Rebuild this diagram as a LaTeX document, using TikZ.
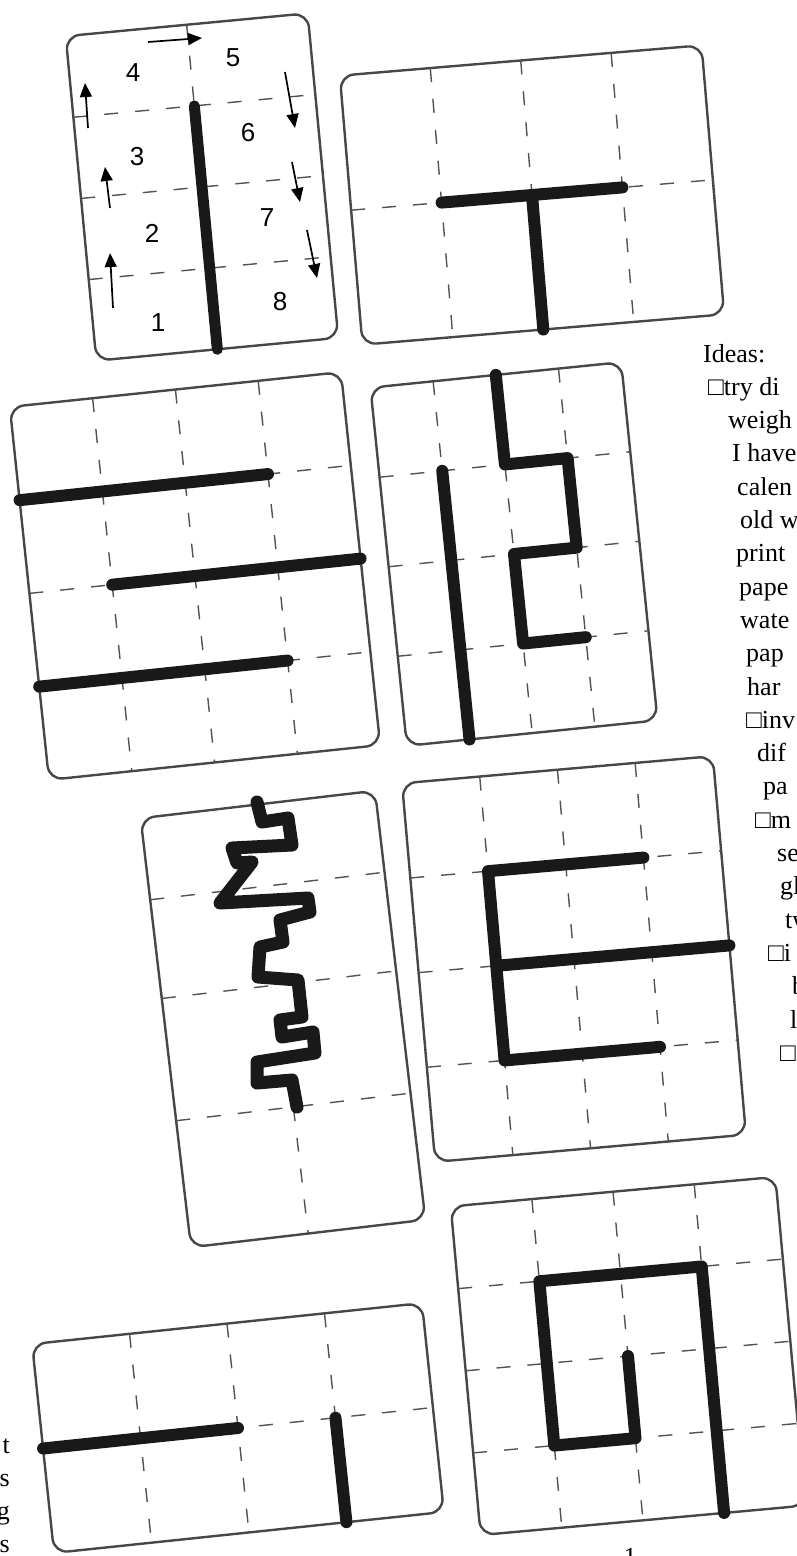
\documentclass[tikz,border=0pt]{standalone}
\usepackage{fontspec}
\setmainfont{Liberation Serif}
\newfontfamily\digitfont{Liberation Sans}
\usetikzlibrary{arrows.meta}

\begin{document}
\begin{tikzpicture}[x=1pt, y=-1pt,
  card/.style={draw=black!72, line width=2.4pt, rounded corners=14pt},
  gridline/.style={draw=black!68, line width=1.4pt, dash pattern=on 14pt off 17pt},
  pen/.style={draw=black!90, line width=12pt, line cap=round, line join=round},
  dirarrow/.style={draw=black, line width=1.7pt, -{Triangle[length=14pt, width=12pt]}},
  digit/.style={font=\digitfont\fontsize{26}{26}\selectfont, inner sep=0pt},
  idea/.style={anchor=base west, inner sep=0pt, font=\fontsize{26}{26}\selectfont},
  tail/.style={anchor=base east, inner sep=0pt, font=\fontsize{26}{26}\selectfont}]

  \useasboundingbox (0,0) rectangle (796,1556);

  % Card 1: stroke order
  \begin{scope}[shift={(202,187)}, rotate=5.4, x=121.5pt, y=-81.5pt]
    \draw[card] (-1,-2) rectangle (1,2);
    \draw[gridline] (0,-2) -- (0,2);
    \foreach \r in {-1,0,1} \draw[gridline] (-1,\r) -- (1,\r);
    \draw[pen, line width=11pt] (0,-1) -- (0,2);
  \end{scope}
  \node[digit] (n4) at (133,73) {4};
  \node[digit] (n5) at (233,58) {5};
  \node[digit] (n3) at (137,157) {3};
  \node[digit] (n6) at (248,133) {6};
  \node[digit] (n2) at (152,233) {2};
  \node[digit] (n7) at (267,218) {7};
  \node[digit] (n1) at (158,323) {1};
  \node[digit] (n8) at (280,302) {8};
  \draw[dirarrow] (113,308) -- (110,253);
  \draw[dirarrow] (110,208) -- (105,167);
  \draw[dirarrow] (88,128) -- (85,83);
  \draw[dirarrow] (148,42) -- (202,38);
  \draw[dirarrow] (285,72) -- (295,128);
  \draw[dirarrow] (292,162) -- (300,202);
  \draw[dirarrow] (307,230) -- (317,278);

  % Card 2: T
  \begin{scope}[shift={(532,195)}, rotate=4.8, x=90.75pt, y=-135pt]
    \draw[card] (-2,-1) rectangle (2,1);
    \foreach \c in {-1,0,1} \draw[gridline] (\c,-1) -- (\c,1);
    \draw[gridline] (-2,0) -- (2,0);
    \draw[pen] (-1,0) -- (1,0) (0,0) -- (0,1);
  \end{scope}

  % Card 3: three bars
  \begin{scope}[shift={(195,576)}, rotate=6, x=83.25pt, y=-93.75pt]
    \draw[card] (-2,-2) rectangle (2,2);
    \foreach \c in {-1,0,1} {
      \draw[gridline] (\c,-2) -- (\c,2);
      \draw[gridline] (-2,\c) -- (2,\c);
    }
    \draw[pen] (-2,-1) -- (1,-1) (-1,0) -- (2,0) (-2,1) -- (1,1);
  \end{scope}

  % Card 4: line and steps
  \begin{scope}[shift={(514,554)}, rotate=5.8, x=63pt, y=-90pt]
    \draw[card] (-2,-2) rectangle (2,2);
    \foreach \c in {-1,0,1} {
      \draw[gridline] (\c,-2) -- (\c,2);
      \draw[gridline] (-2,\c) -- (2,\c);
    }
    \draw[pen] (-1,-1) -- (-1,2);
    \draw[pen] (0,-2) -- (0,-1) -- (1,-1) -- (1,0) -- (0,0) -- (0,1) -- (1,1);
  \end{scope}

  % Card 5: zigzag
  \begin{scope}[shift={(283,1019)}, rotate=6.7, x=59pt, y=-108pt]
    \draw[card] (-2,-2) rectangle (2,2);
    \foreach \r in {-1.24,-0.32,0.82} \draw[gridline] (-2,\r) -- (2,\r);
    \draw[gridline] (0,0.82) -- (0,2);
  \end{scope}
  \draw[pen, line width=13pt] (257,802) -- (262,822) -- (288,818) -- (292,845)
    -- (232,848) -- (237,863) -- (252,862) -- (220,903) -- (308,898)
    -- (310,912) -- (280,920) -- (283,942) -- (260,947) -- (258,977)
    -- (298,980) -- (302,1017) -- (280,1020) -- (282,1037) -- (313,1032)
    -- (315,1053) -- (257,1062) -- (257,1083) -- (292,1080) -- (297,1107);

  % Card 6: E
  \begin{scope}[shift={(574,959)}, rotate=5, x=78pt, y=-95pt]
    \draw[card] (-2,-2) rectangle (2,2);
    \foreach \c in {-1,0,1} {
      \draw[gridline] (\c,-2) -- (\c,2);
      \draw[gridline] (-2,\c) -- (2,\c);
    }
    \draw[pen] (1,-1) -- (-1,-1) -- (-1,1) -- (1,1) (-1,0) -- (2,0);
  \end{scope}

  % Card 7: wide card
  \begin{scope}[shift={(238,1428)}, rotate=6, x=98pt, y=-105pt]
    \draw[card] (-2,-1) rectangle (2,1);
    \foreach \c in {-1,0,1} \draw[gridline] (\c,-1) -- (\c,1);
    \draw[gridline] (-2,0) -- (2,0);
    \draw[pen] (-2,0) -- (0,0) (1,0) -- (1,1);
  \end{scope}

  % Card 8: spiral
  \begin{scope}[shift={(628,1356)}, rotate=5.2, x=81.5pt, y=-82.5pt]
    \draw[card] (-2,-2) rectangle (2,2);
    \foreach \c in {-1,0,1} {
      \draw[gridline] (\c,-2) -- (\c,2);
      \draw[gridline] (-2,\c) -- (2,\c);
    }
    \draw[pen] (1,2) -- (1,-1) -- (-1,-1) -- (-1,1) -- (0,1) -- (0,0);
  \end{scope}

  % Text column (cut at the page edge)
  \foreach \x/\t [count=\i from 0] in {703/{Ideas:}, 708/{□try di}, 728/{weigh},
      732/{I have}, 737/{calen}, 740/{old w}, 736/{print}, 739/{pape},
      740/{wate}, 746/{pap}, 747/{har}, 746/{□inv}, 757/{dif}, 763/{pa},
      755/{□m}, 777/{se}, 780/{gl}, 785/{tw}, 768/{□i}, 792/{b}, 790/{l}, 780/{□}}
    \node[idea] (idea\i) at (\x, {362+33.3*\i}) {\t};

  \node[tail] (tail1) at (10,1453) {t};
  \node[tail] (tail2) at (10,1486) {s};
  \node[tail] (tail3) at (10,1519) {g};
  \node[tail] (tail4) at (10,1552) {s};
  \node[idea, anchor=base] (foot) at (630,1565) {1};
\end{tikzpicture}
\end{document}
